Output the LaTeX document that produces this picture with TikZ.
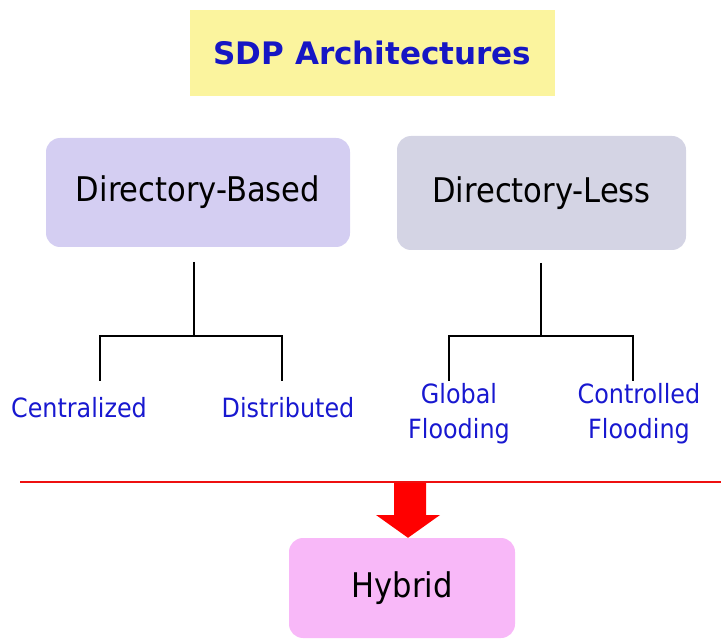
\documentclass[tikz,border=0pt]{standalone}
\usepackage{fontspec}
\setmainfont{DejaVu Sans}
\newfontfamily\condfont{DejaVu Sans Condensed}
\definecolor{titlefill}{HTML}{FBF49E}
\definecolor{titleblue}{HTML}{1616C4}
\definecolor{labelblue}{HTML}{1818D0}
\definecolor{basedfill}{HTML}{D4CEF2}
\definecolor{lessfill}{HTML}{D4D4E4}
\definecolor{hybridfill}{HTML}{F8B8F8}
\definecolor{splitred}{HTML}{EE1010}
\tikzset{
  catbox/.style={rounded corners=14pt, inner sep=0pt, font=\condfont\fontsize{34}{40}\selectfont, text=black},
  leaf/.style={font=\condfont\fontsize{26.5}{35}\selectfont, text=labelblue, align=center, inner sep=0pt},
  branch/.style={draw=black, line width=1.1pt}
}
\begin{document}
\begin{tikzpicture}[x=1pt,y=-1pt]
\useasboundingbox (0,0) rectangle (721,639);

% title
\node[fill=titlefill, minimum width=365pt, minimum height=86pt, inner sep=0pt,
      font=\bfseries\fontsize{31}{36}\selectfont, text=titleblue] (title) at (372.5,53) {SDP Architectures};

% category boxes
\node[catbox, fill=basedfill, minimum width=304pt, minimum height=109pt] (based) at (198,192.5) {Directory-Based};
\node[catbox, fill=lessfill, minimum width=289pt, minimum height=114pt] (less) at (541.5,193) {Directory-Less};

% leaves
\node[leaf] (central) at (79,408) {Centralized};
\node[leaf] (distrib) at (288,408) {Distributed};
\node[leaf] (global) at (459,414) {Global\\Flooding};
\node[leaf] (controlled) at (639,414) {Controlled\\Flooding};

% branch points
\coordinate (btop) at (194,262);
\coordinate (bmid) at (194,336);
\coordinate (ltop) at (541,263);
\coordinate (lmid) at (541,336);

\draw[branch] (btop) -- (bmid);
\draw[branch] (100,381) |- (bmid) -| (282,381);
\draw[branch] (ltop) -- (lmid);
\draw[branch] (449,381) |- (lmid) -| (633,381);

% separator
\coordinate (sepL) at (20,482);
\coordinate (sepR) at (721,482);
\draw[splitred, line width=1.4pt] (sepL) -- (sepR);

% hybrid box and arrow
\node[catbox, fill=hybridfill, minimum width=226pt, minimum height=100pt] (hybrid) at (402,588) {Hybrid};
\fill[red] (394,483) -- (426,483) -- (426,515) -- (440,515) -- (hybrid.north -| 408,0) -- (376,515) -- (394,515) -- cycle;
\end{tikzpicture}
\end{document}
